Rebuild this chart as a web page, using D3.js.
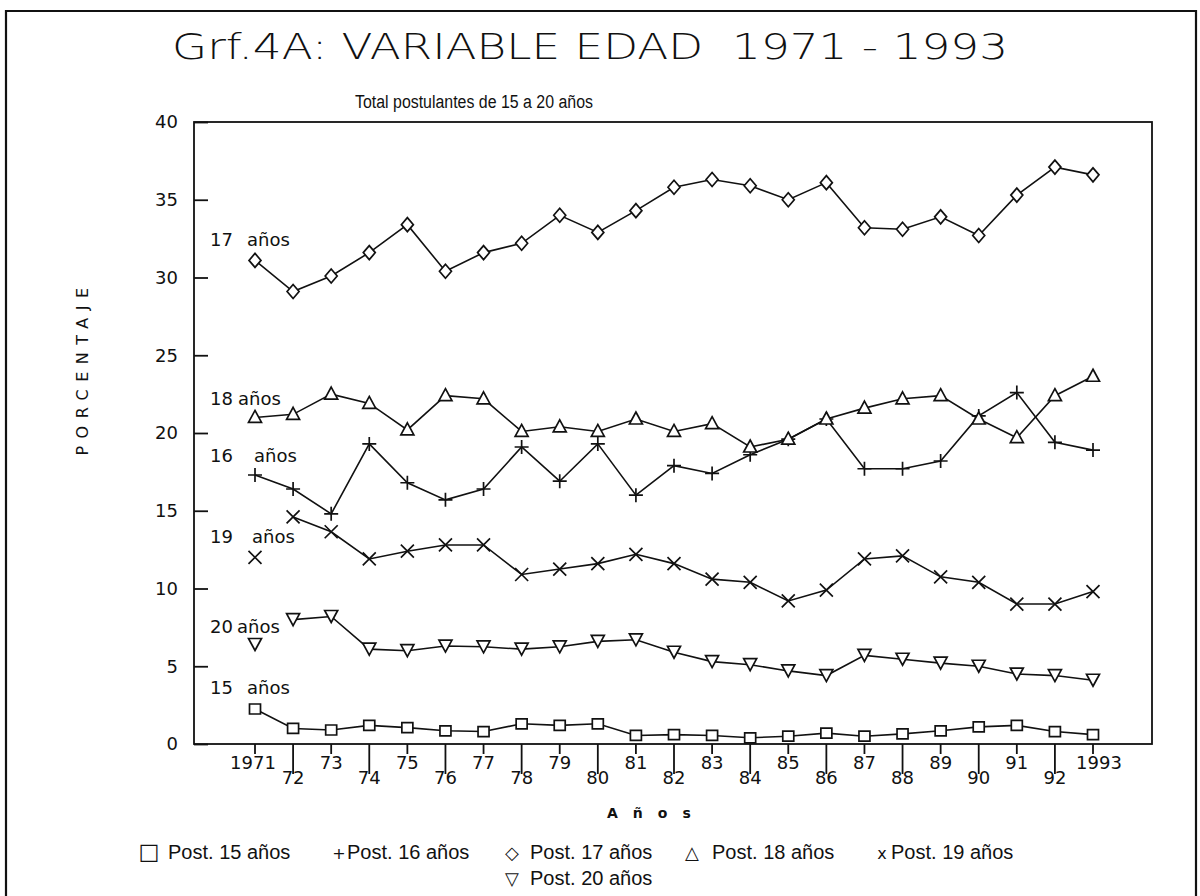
<!DOCTYPE html>
<html>
<head>
<meta charset="utf-8">
<script src="https://cdn.jsdelivr.net/npm/d3@7"></script>
<style>
  body { margin: 0; background: #fff; }
  svg { display: block; }
</style>
</head>
<body>
<div id="chart"></div>
<script>
var width = 1200, height = 896;

// años 1971 - 1993
const years = [1971, 1972, 1973, 1974, 1975, 1976, 1977, 1978, 1979, 1980, 1981, 1982,
               1983, 1984, 1985, 1986, 1987, 1988, 1989, 1990, 1991, 1992, 1993];
const yearLabels = ["1971", "72", "73", "74", "75", "76", "77", "78", "79", "80", "81", "82",
                    "83", "84", "85", "86", "87", "88", "89", "90", "91", "92", "1993"];
const yTicks = [0, 5, 10, 15, 20, 25, 30, 35, 40];

// porcentaje por edad
const post15 = [2.25, 1.0, 0.9, 1.2, 1.05, 0.85, 0.8, 1.3, 1.2, 1.3, 0.55, 0.6,
                0.55, 0.4, 0.5, 0.7, 0.5, 0.65, 0.85, 1.1, 1.2, 0.8, 0.6];
const post16 = [17.3, 16.4, 14.8, 19.3, 16.8, 15.7, 16.4, 19.1, 16.9, 19.3, 16.0, 17.9,
                17.4, 18.6, 19.6, 20.9, 17.7, 17.7, 18.2, 21.1, 22.6, 19.4, 18.9];
const post17 = [31.1, 29.1, 30.1, 31.6, 33.4, 30.4, 31.6, 32.2, 34.0, 32.9, 34.3, 35.8,
                36.3, 35.9, 35.0, 36.1, 33.2, 33.1, 33.9, 32.7, 35.3, 37.1, 36.6];
const post18 = [21.0, 21.2, 22.5, 21.9, 20.2, 22.4, 22.2, 20.1, 20.4, 20.1, 20.9, 20.1,
                20.6, 19.1, 19.6, 20.9, 21.6, 22.2, 22.4, 20.9, 19.7, 22.4, 23.65];
const post19 = [12.0, 14.6, 13.65, 11.9, 12.4, 12.8, 12.8, 10.9, 11.25, 11.6, 12.2, 11.6,
                10.6, 10.4, 9.2, 9.9, 11.9, 12.1, 10.75, 10.4, 9.0, 9.0, 9.8];
const post20 = [6.4, 8.0, 8.2, 6.1, 6.0, 6.3, 6.25, 6.1, 6.25, 6.6, 6.7, 5.9,
                5.3, 5.1, 4.7, 4.4, 5.7, 5.45, 5.2, 5.0, 4.5, 4.4, 4.1];

const seriesNames = ["Post. 15 años", "Post. 16 años", "Post. 17 años",
                     "Post. 18 años", "Post. 19 años", "Post. 20 años"];

const series = [
  {name: seriesNames[0], values: post15, mark: "square",  from: 0, label: ["15", "años"], lx: 247, ly: 688},
  {name: seriesNames[1], values: post16, mark: "plus",    from: 0, label: ["16", "años"], lx: 254, ly: 456},
  {name: seriesNames[2], values: post17, mark: "diamond", from: 0, label: ["17", "años"], lx: 247, ly: 240},
  {name: seriesNames[3], values: post18, mark: "tri",     from: 0, label: ["18", "años"], lx: 238, ly: 399},
  {name: seriesNames[4], values: post19, mark: "cross",   from: 1, label: ["19", "años"], lx: 252, ly: 537},
  {name: seriesNames[5], values: post20, mark: "trid",    from: 1, label: ["20", "años"], lx: 237, ly: 627}
];

const plot = {left: 194, right: 1152, top: 122, bottom: 744};

const x = d3.scaleLinear().domain([1971, 1993]).range([255, 1093]);
const y = d3.scaleLinear().domain([0, 40]).range([plot.bottom, plot.top]);

const svg = d3.select("#chart").append("svg")
    .attr("width", width)
    .attr("height", height);

const ink = "#111";

// marco exterior
svg.append("path")
    .attr("d", "M6,900 V11 H1196 V900")
    .attr("fill", "none")
    .attr("stroke", ink)
    .attr("stroke-width", 2.2);

// titulo
svg.append("text")
    .attr("x", 590).attr("y", 59)
    .attr("text-anchor", "middle")
    .attr("textLength", 836)
    .attr("lengthAdjust", "spacingAndGlyphs")
    .style("font-family", "'DejaVu Sans ExtraLight', 'DejaVu Sans', sans-serif")
    .style("font-weight", 200)
    .style("font-size", "36px")
    .style("white-space", "pre")
    .attr("fill", ink)
    .text("Grf.4A: VARIABLE EDAD  1971 - 1993");

svg.append("text")
    .attr("x", 474).attr("y", 108)
    .attr("text-anchor", "middle")
    .attr("textLength", 238)
    .attr("lengthAdjust", "spacingAndGlyphs")
    .style("font-family", "'Liberation Sans', Arial, sans-serif")
    .style("font-size", "18px")
    .attr("fill", ink)
    .text("Total postulantes de 15 a 20 años");

// recuadro del grafico
svg.append("rect")
    .attr("x", plot.left).attr("y", plot.top)
    .attr("width", plot.right - plot.left)
    .attr("height", plot.bottom - plot.top)
    .attr("fill", "none")
    .attr("stroke", ink)
    .attr("stroke-width", 1.8);

// eje Y
const yAxis = svg.append("g")
    .attr("transform", "translate(" + plot.left + ",0)")
    .call(d3.axisRight(y).tickValues(yTicks).tickSize(14).tickFormat(d3.format("d")));
yAxis.select(".domain").remove();
yAxis.selectAll("line").attr("stroke", ink).attr("stroke-width", 1.8);
yAxis.selectAll("text")
    .attr("x", -16)
    .attr("text-anchor", "end")
    .attr("fill", ink)
    .style("font-family", "'DejaVu Sans', sans-serif")
    .style("font-size", "18px");

// eje X: años impares arriba, pares abajo
const xAxis = svg.append("g")
    .attr("transform", "translate(0," + plot.bottom + ")");
const xt = xAxis.selectAll("g.tick")
    .data(years)
    .join("g")
    .attr("class", "tick")
    .attr("transform", d => "translate(" + x(d) + ",0)");
xt.append("line")
    .attr("y1", 0)
    .attr("y2", (d, i) => i % 2 === 0 ? 10 : 30)
    .attr("stroke", ink)
    .attr("stroke-width", 1.8);
xt.append("text")
    .attr("x", (d, i) => i === 0 ? -2 : (i === years.length - 1 ? 6 : 0))
    .attr("y", (d, i) => i % 2 === 0 ? 25 : 40)
    .attr("text-anchor", "middle")
    .attr("fill", ink)
    .style("font-family", "'DejaVu Sans', sans-serif")
    .style("font-size", "18px")
    .text((d, i) => yearLabels[i]);

// titulos de ejes
svg.append("text")
    .attr("transform", "translate(88,368) rotate(-90)")
    .attr("text-anchor", "middle")
    .style("font-family", "'DejaVu Sans', sans-serif")
    .style("font-size", "16px")
    .style("letter-spacing", "7.5px")
    .attr("fill", ink)
    .text("PORCENTAJE");

svg.append("text")
    .attr("x", 607).attr("y", 818)
    .style("font-family", "'DejaVu Sans', sans-serif")
    .style("font-weight", "bold")
    .style("font-size", "14px")
    .style("letter-spacing", "15px")
    .attr("fill", ink)
    .text("Años");

// simbolos
function marker(type) {
  switch (type) {
    case "square":  return "M-5.5,-5 H5.5 V5 H-5.5 Z";
    case "plus":    return "M-7,0 H7 M0,-7 V7";
    case "diamond": return "M0,-7 L6,0 L0,7 L-6,0 Z";
    case "tri":     return "M0,-7 L6.5,5 H-6.5 Z";
    case "trid":    return "M0,6 L6.5,-6 H-6.5 Z";
    case "cross":   return "M-6.5,-6.5 L6.5,6.5 M-6.5,6.5 L6.5,-6.5";
  }
}

const line = d3.line()
    .x(d => x(d.year))
    .y(d => y(d.value));

const gs = svg.append("g").selectAll("g")
    .data(series)
    .join("g");

gs.append("path")
    .attr("d", s => line(years.map((yr, i) => ({year: yr, value: s.values[i]})).slice(s.from)))
    .attr("fill", "none")
    .attr("stroke", ink)
    .attr("stroke-width", 1.6);

gs.each(function(s) {
  d3.select(this).selectAll("path.m")
    .data(years.map((yr, i) => ({year: yr, value: s.values[i]})))
    .join("path")
    .attr("class", "m")
    .attr("transform", d => "translate(" + x(d.year) + "," + y(d.value) + ")")
    .attr("d", marker(s.mark))
    .attr("fill", (s.mark === "plus" || s.mark === "cross") ? "none" : "#fff")
    .attr("stroke", ink)
    .attr("stroke-width", 1.7);
});

// etiquetas de cada serie
const lab = svg.append("g")
    .style("font-family", "'DejaVu Sans', sans-serif")
    .style("font-size", "18px")
    .attr("fill", ink);
series.forEach(function(s) {
  lab.append("text").attr("x", 210).attr("y", s.ly + 6).text(s.label[0]);
  lab.append("text").attr("x", s.lx).attr("y", s.ly + 6).text(s.label[1]);
});

// leyenda
const legendItems = [
  {glyph: "□", gx: 149, tx: 168, y: 859, size: 22},
  {glyph: "+", gx: 339, tx: 347, y: 859, size: 16},
  {glyph: "◇", gx: 512, tx: 530, y: 859, size: 18},
  {glyph: "△", gx: 692, tx: 712, y: 859, size: 18},
  {glyph: "x", gx: 882, tx: 891, y: 859, size: 16},
  {glyph: "▽", gx: 512, tx: 530, y: 885, size: 18}
];
const lg = svg.append("g").attr("fill", ink);
legendItems.forEach(function(it, i) {
  lg.append("text")
      .attr("x", it.gx).attr("y", it.y)
      .attr("text-anchor", "middle")
      .style("font-family", "'DejaVu Sans', sans-serif")
      .style("font-size", it.size + "px")
      .text(it.glyph);
  lg.append("text")
      .attr("x", it.tx).attr("y", it.y)
      .style("font-family", "'Liberation Sans', Arial, sans-serif")
      .style("font-size", "20px")
      .text(seriesNames[i]);
});
</script>
</body>
</html>
